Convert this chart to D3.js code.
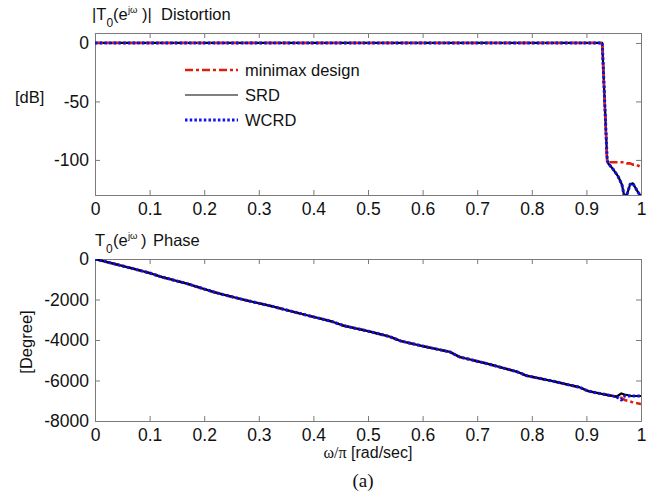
<!DOCTYPE html>
<html><head><meta charset="utf-8">
<script src="https://cdn.jsdelivr.net/npm/d3@7"></script>
<style>
html,body{margin:0;padding:0;background:#fff;}
svg{display:block;font-family:"Liberation Sans",Arial,sans-serif;}
</style></head>
<body>
<svg id="chart" width="657" height="504"></svg>
<script>
// ---------- data ----------
const xTicks = [0,0.1,0.2,0.3,0.4,0.5,0.6,0.7,0.8,0.9,1];
const magTicks = [0,-50,-100];
const phaseTicks = [0,-2000,-4000,-6000,-8000];

const magX       = [0, 0.929, 0.938, 0.940, 0.949, 0.958, 0.965, 0.969, 0.974, 0.980, 0.985, 0.990, 0.995, 1.0];
const magMinimax = [0, 0, -102, -102, -102, -102, -102, -102, -103, -103, -104, -104, -105, -106];
const magSRD     = [0, 0, -100, -103, -108, -114, -121, -130, -130, -121, -120, -124, -128, -131];
const magWCRD    = [0, 0, -100, -103, -108, -114, -121, -130, -130, -121, -120, -124, -128, -131];

const phaseX       = [0, 0.05, 0.10, 0.12, 0.17, 0.215, 0.235, 0.28, 0.325, 0.345, 0.39, 0.435, 0.455, 0.50, 0.54, 0.56, 0.60, 0.65, 0.668, 0.72, 0.772, 0.79, 0.84, 0.888, 0.903, 0.93, 0.955, 0.964, 0.97, 0.983, 1.0];
const phaseSRD     = [0, -340, -690, -870, -1230, -1610, -1760, -2060, -2340, -2480, -2790, -3095, -3290, -3560, -3835, -4050, -4300, -4590, -4840, -5180, -5560, -5760, -6040, -6340, -6520, -6670, -6800, -6640, -6690, -6765, -6765];
const phaseWCRD    = [0, -340, -690, -870, -1230, -1610, -1760, -2060, -2340, -2480, -2790, -3095, -3290, -3560, -3835, -4050, -4300, -4590, -4840, -5180, -5560, -5760, -6040, -6340, -6520, -6670, -6800, -6960, -6760, -6765, -6765];
const phaseMinimax = [0, -340, -690, -870, -1230, -1610, -1760, -2060, -2340, -2480, -2790, -3095, -3290, -3560, -3835, -4050, -4300, -4590, -4840, -5180, -5560, -5760, -6040, -6340, -6520, -6670, -6800, -6850, -6960, -7060, -7160];

const seriesNames = ["minimax design","SRD","WCRD"];

// ---------- layout ----------
const svg = d3.select("#chart");
const L = 95, R = 641;
const RED = "#dd1f0c", BLUE = "#1010f0";
const FONT = "Liberation Sans, Arial, sans-serif";
const styles = {
  "minimax design": {color: RED, width: 2.6, dash: "8,3,3,3"},
  "SRD": {color: "#000", width: 2.2, dash: null},
  "WCRD": {color: BLUE, width: 3, dash: "2.5,2.2"}
};

const x = d3.scaleLinear().domain([0,1]).range([L,R]);

function panel(id, top, bottom, ydom, yticks, series, xs) {
  const y = d3.scaleLinear().domain(ydom).range([bottom, top]);
  const g = svg.append("g");
  g.append("clipPath").attr("id", id).append("rect")
    .attr("x", L).attr("y", top).attr("width", R-L).attr("height", bottom-top);
  const axCol = "#7a7a7a";
  const tl = 5;
  g.append("g").attr("transform",`translate(0,${bottom})`)
    .call(d3.axisBottom(x).tickValues(xTicks).tickSize(-tl).tickPadding(8).tickFormat(d=>d3.format("")(d)))
    .call(a=>{a.attr("font-family",FONT);a.select(".domain").attr("stroke",axCol);a.selectAll("line").attr("stroke",axCol);
      a.selectAll("text").attr("font-size",17.5).attr("fill","#111");});
  g.append("g").attr("transform",`translate(0,${top})`)
    .call(d3.axisTop(x).tickValues(xTicks).tickSize(-tl).tickFormat(""))
    .call(a=>{a.select(".domain").attr("stroke",axCol);a.selectAll("line").attr("stroke",axCol);});
  g.append("g").attr("transform",`translate(${L},0)`)
    .call(d3.axisLeft(y).tickValues(yticks).tickSize(-tl).tickPadding(6).tickFormat(d=>String(d).replace("−","-")))
    .call(a=>{a.attr("font-family",FONT);a.select(".domain").attr("stroke",axCol);a.selectAll("line").attr("stroke",axCol);
      a.selectAll("text").attr("font-size",17.5).attr("fill","#111");});
  g.append("g").attr("transform",`translate(${R},0)`)
    .call(d3.axisRight(y).tickValues(yticks).tickSize(-tl).tickFormat(""))
    .call(a=>{a.select(".domain").attr("stroke",axCol);a.selectAll("line").attr("stroke",axCol);});

  const line = d3.line().x(d=>x(d[0])).y(d=>y(d[1]));
  const lg = g.append("g").attr("clip-path",`url(#${id})`);
  series.forEach(s=>{
    const st = styles[s.name];
    const pts = xs.map((xv,i)=>[xv, s.values[i]]);
    lg.append("path").attr("d", line(pts)).attr("fill","none")
      .attr("stroke", st.color).attr("stroke-width", st.width)
      .attr("stroke-dasharray", st.dash).attr("stroke-linejoin","round");
  });
  return y;
}

panel("clipTop", 33, 195, [-130, 8.5], magTicks, [
  {name:"SRD", values: magSRD},
  {name:"minimax design", values: magMinimax},
  {name:"WCRD", values: magWCRD}
], magX);

panel("clipBot", 259, 421, [-8000, 0], phaseTicks, [
  {name:"minimax design", values: phaseMinimax},
  {name:"SRD", values: phaseSRD},
  {name:"WCRD", values: phaseWCRD}
], phaseX);

// ---------- legend ----------
const leg = svg.append("g");
seriesNames.forEach((n,i)=>{
  const yy = 70 + i*25;
  const st = styles[n];
  leg.append("line").attr("x1",185).attr("x2",238).attr("y1",yy).attr("y2",yy)
    .attr("stroke",st.color).attr("stroke-width", n==="SRD"?1:st.width).attr("stroke-dasharray",st.dash);
  leg.append("text").attr("x",245).attr("y",yy+6).attr("font-size",16.5).attr("fill","#111").text(n);
});

// ---------- titles & labels ----------
function title(yb, parts) {
  const t = svg.append("text").attr("y",yb).attr("font-size",16.5).attr("fill","#111");
  parts.forEach(p=>{
    t.append("tspan").attr("x",p.x).attr("y",yb + (p.dy||0))
      .attr("font-size",p.fs||16.5).text(p.t);
  });
}
title(20, [
  {t:"|T", x:92},
  {t:"0", x:106.5, dy:7, fs:12},
  {t:"(e", x:113},
  {t:"jω", x:128, dy:-7, fs:9.5},
  {t:")|", x:142},
  {t:"Distortion", x:161}
]);
title(246, [
  {t:"T", x:95},
  {t:"0", x:106, dy:7, fs:12},
  {t:"(e", x:113},
  {t:"jω", x:128, dy:-7, fs:9.5},
  {t:")", x:141},
  {t:"Phase", x:153}
]);

svg.append("text").attr("x",15).attr("y",103).attr("font-size",16.5).attr("fill","#111").text("[dB]");
svg.append("text").attr("transform","translate(32,342) rotate(-90)").attr("text-anchor","middle")
  .attr("font-size",16.5).attr("fill","#111").text("[Degree]");

const xl = svg.append("text").attr("x",368).attr("y",458).attr("text-anchor","middle").attr("font-size",16).attr("fill","#111");
xl.append("tspan").attr("font-family","Liberation Serif, serif").text("ω/π");
xl.append("tspan").text(" [rad/sec]");

svg.append("text").attr("x",363).attr("y",487).attr("text-anchor","middle")
  .attr("font-family","Liberation Serif, serif").attr("font-size",19).attr("fill","#111").text("(a)");
</script>
</body></html>
